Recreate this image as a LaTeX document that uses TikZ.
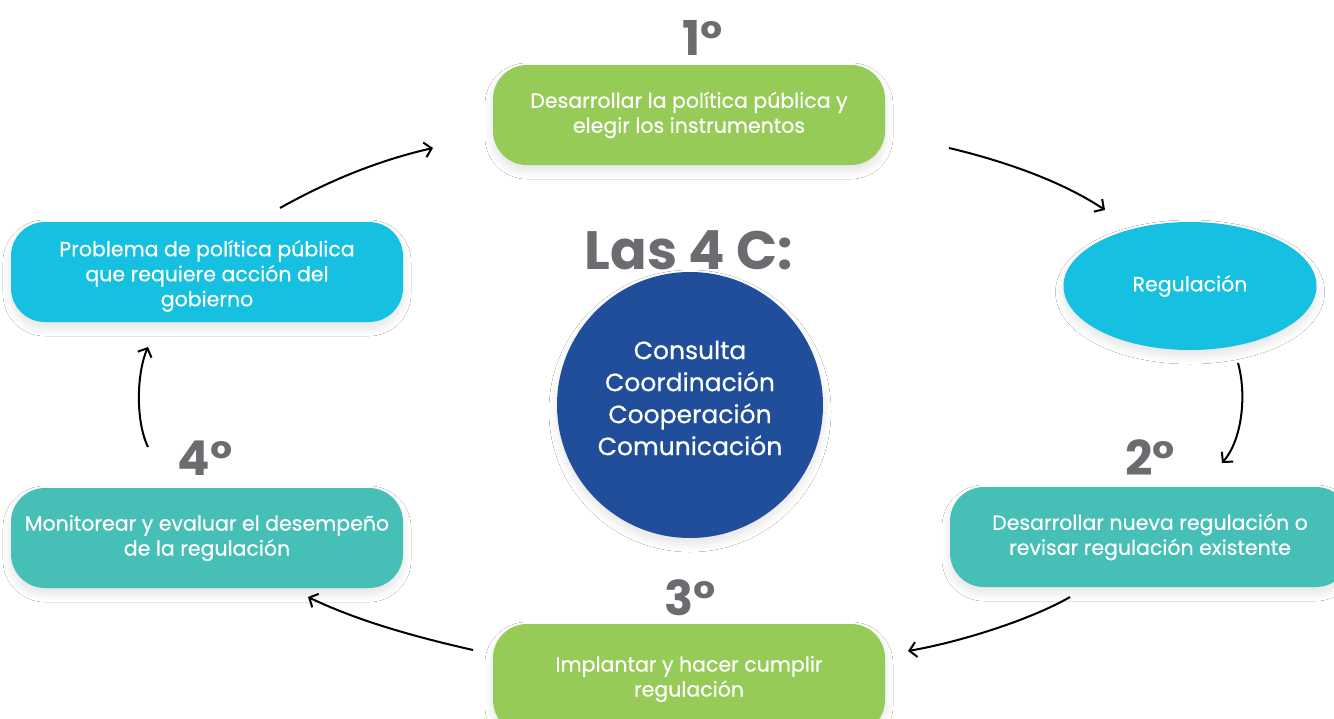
\documentclass[tikz,border=0pt]{standalone}
\usepackage{fontspec}
\setmainfont{Poppins}
\newfontfamily\medfont[FakeBold=0.45]{Poppins}
\usetikzlibrary{arrows.meta,shapes.geometric,shadows.blur}
\definecolor{cgreen}{HTML}{97CB57}
\definecolor{ccyan}{HTML}{16C0E0}
\definecolor{cteal}{HTML}{46C0B6}
\definecolor{cblue}{HTML}{214E9B}
\definecolor{cgray}{HTML}{6B6C70}
\tikzset{
  sh/.style={blur shadow={shadow blur steps=16, shadow xshift=0pt, shadow yshift=-6pt, shadow opacity=11, shadow blur radius=8pt}},
  boxtext/.style={align=center, text=white, font=\medfont\fontsize{20.5}{25}\selectfont, inner sep=0pt},
  stepbox/.style={rounded corners=34pt, minimum width=392pt, minimum height=100pt, boxtext, sh},
  num/.style={text=cgray, font=\fontsize{48}{48}\selectfont\bfseries},
  cyc/.style={line width=2pt, -{Straight Barb[length=7pt,width=15pt,line width=2pt]}},
}
\begin{document}
\begin{tikzpicture}[x=1pt,y=-1pt]
\useasboundingbox (0,0) rectangle (1334,718);
\clip (0,0) rectangle (1334,718);
\fill[white] (0,0) rectangle (1334,718);
% center circle first (its shadow stays under the title)
\node[circle, fill=cblue, minimum size=266pt, sh, inner sep=0pt] (c) at (690,405) {};
\node[boxtext, font=\medfont\fontsize{25}{32}\selectfont] (ctext) at (690,398) {Consulta\\Coordinación\\Cooperación\\Comunicación};
\node[text=cgray, font=\fontsize{54}{54}\selectfont\bfseries] (las) at (689,250) {Las 4 C:};
% boxes
\node[stepbox, fill=cgreen] (b1) at (689,115) {Desarrollar la política pública y\\elegir los instrumentos};
\node[stepbox, fill=ccyan] (prob) at (207,272) {};
\node[boxtext] (probt) at (207,276) {Problema de política pública\\que requiere acción del\\gobierno};
\node[ellipse, fill=ccyan, minimum width=253pt, minimum height=128pt, sh, boxtext] (reg) at (1190,286) {Regulación};
\node[stepbox, fill=cteal, minimum width=400pt] (b2) at (1150,537) {Desarrollar nueva regulación o\\revisar regulación existente};
\node[stepbox, fill=cgreen, minimum height=110pt] (b3) at (689,679) {Implantar y hacer cumplir\\regulación};
\node[stepbox, fill=cteal] (b4) at (207,538) {Monitorear y evaluar el desempeño\\de la regulación};
% numbers
\node[num] (n1) at (703,38) {1°};
\node[num] (n2) at (1150,458) {2°};
\node[num] (n3) at (690,598) {3°};
\node[num] (n4) at (205,458) {4°};
% arrows
\coordinate (a1s) at (280,208); \coordinate (a1e) at (433,148);
\coordinate (a2s) at (949,148); \coordinate (a2e) at (1105,210);
\coordinate (a3s) at (1238,363); \coordinate (a3e) at (1222,463);
\coordinate (a4s) at (1070,597); \coordinate (a4e) at (908,651);
\coordinate (a5s) at (473,650); \coordinate (a5e) at (308,597);
\coordinate (a6s) at (148,447); \coordinate (a6e) at (148,347);
\draw[cyc] (a1s) .. controls (330,180) and (380,160) .. (a1e);
\draw[cyc] (a2s) .. controls (1000,160) and (1060,180) .. (a2e);
\draw[cyc] (a3s) .. controls (1247,395) and (1242,440) .. (a3e);
\draw[cyc] (a4s) .. controls (1030,620) and (960,642) .. (a4e);
\draw[cyc] (a5s) .. controls (420,638) and (360,622) .. (a5e);
\draw[cyc] (a6s) .. controls (135,420) and (137,372) .. (a6e);
\end{tikzpicture}
\end{document}
